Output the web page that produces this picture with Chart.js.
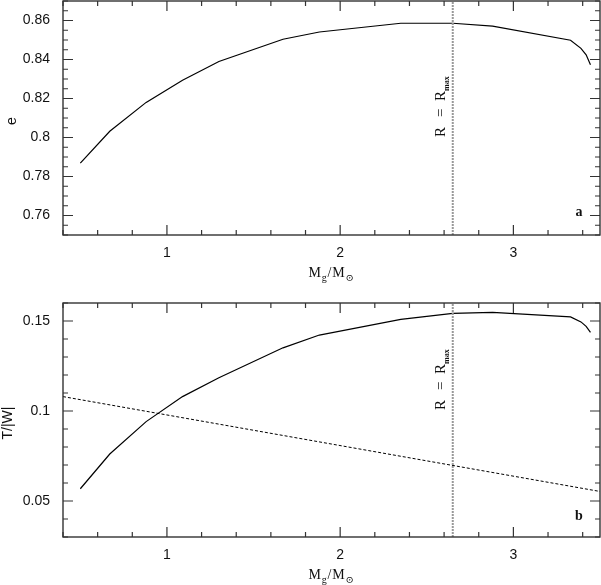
<!DOCTYPE html>
<html>
<head>
<meta charset="utf-8">
<script src="https://cdn.jsdelivr.net/npm/chart.js@4.4.1/dist/chart.umd.min.js"></script>
<style>
  html, body { margin: 0; padding: 0; background: #fff; }
  #wrap { position: relative; width: 601px; height: 585px; }
  .panel { position: absolute; left: 0; width: 601px; }
</style>
</head>
<body>
<div id="wrap">
  <div class="panel" style="top:0;height:290px"><canvas id="panelA" width="601" height="290"></canvas></div>
  <div class="panel" style="top:290px;height:295px"><canvas id="panelB" width="601" height="295"></canvas></div>
</div>
<script>
// valores
const massX  = [0.5, 0.67, 0.88, 1.09, 1.3, 1.67, 1.88, 2.35, 2.65, 2.88, 3.33, 3.39, 3.42, 3.445];
const eVals  = [0.7869, 0.8032, 0.818, 0.8294, 0.839, 0.8504, 0.8541, 0.8586, 0.8586, 0.8571, 0.8499, 0.8457, 0.8424, 0.8373];
const twVals = [0.0568, 0.0761, 0.0941, 0.108, 0.1185, 0.1351, 0.1422, 0.1509, 0.1542, 0.1548, 0.1523, 0.1495, 0.147, 0.1437];
const dashX  = [0.4, 3.5];
const dashTW = [0.108, 0.0553];
const rMaxX  = 2.65;

const xTicks  = [1, 2, 3];
const eTicks  = [0.76, 0.78, 0.8, 0.82, 0.84, 0.86];
const twTicks = [0.05, 0.1, 0.15];

const SANS  = '"Liberation Sans", Arial, sans-serif';
const SERIF = '"Liberation Serif", "DejaVu Serif", serif';

const toPts = (xs, ys) => xs.map((x, i) => ({ x: x, y: ys[i] }));

function stepsBetween(min, max, step) {
  const out = [];
  const n0 = Math.ceil(min / step - 1e-6), n1 = Math.floor(max / step + 1e-6);
  for (let n = n0; n <= n1; n++) out.push(+(n * step).toFixed(6));
  return out;
}

// marco, ticks hacia dentro y textos
const panelDeco = {
  id: 'panelDeco',
  afterDatasetsDraw(chart, args, o) {
    const { ctx, chartArea: a, scales: { x, y } } = chart;
    ctx.save();
    ctx.strokeStyle = '#333';
    ctx.lineWidth = 1.4;
    ctx.strokeRect(a.left, a.top, a.right - a.left, a.bottom - a.top);

    ctx.lineWidth = 1.2;
    ctx.beginPath();
    stepsBetween(x.min, x.max, o.xMinor).forEach(v => {
      const px = x.getPixelForValue(v);
      const len = Math.abs(v - Math.round(v / o.xMajor) * o.xMajor) < 1e-6 ? 10 : 5;
      ctx.moveTo(px, a.bottom); ctx.lineTo(px, a.bottom - len);
      ctx.moveTo(px, a.top); ctx.lineTo(px, a.top + len);
    });
    stepsBetween(y.min, y.max, o.yMinor).forEach(v => {
      const py = y.getPixelForValue(v);
      const len = Math.abs(v - Math.round(v / o.yMajor) * o.yMajor) < 1e-6 ? 10 : 5;
      ctx.moveTo(a.left, py); ctx.lineTo(a.left + len, py);
      ctx.moveTo(a.right, py); ctx.lineTo(a.right - len, py);
    });
    ctx.stroke();

    // etiquetas de los ejes
    ctx.fillStyle = '#111';
    ctx.font = '14px ' + SANS;
    ctx.textAlign = 'right';
    ctx.textBaseline = 'middle';
    o.yTicks.forEach(v => ctx.fillText(String(v), a.left - 13, y.getPixelForValue(v)));
    ctx.textAlign = 'center';
    xTicks.forEach(v => ctx.fillText(String(v), x.getPixelForValue(v), a.bottom + 18));

    // titulo eje y
    ctx.save();
    ctx.translate(o.yTitleX, (a.top + a.bottom) / 2 + 3);
    ctx.rotate(-Math.PI / 2);
    ctx.fillText(o.yTitle, 0, 0);
    ctx.restore();

    // titulo eje x: M_g / M_sol
    const cx = (a.left + a.right) / 2, by = a.bottom + 42;
    const parts = [['M', 14, 0], ['g', 10, 4], ['/', 14, 0], ['M', 14, 0], ['\u2299', 10, 4]];
    let w = 0;
    parts.forEach(p => { ctx.font = p[1] + 'px ' + SERIF; w += ctx.measureText(p[0]).width + 0.8; });
    let px = cx - w / 2;
    ctx.textAlign = 'left';
    ctx.textBaseline = 'alphabetic';
    parts.forEach(p => {
      ctx.font = p[1] + 'px ' + SERIF;
      ctx.fillText(p[0], px, by + p[2]);
      px += ctx.measureText(p[0]).width + 0.8;
    });

    // R = R_max vertical
    ctx.save();
    ctx.translate(445, o.rLabelY);
    ctx.rotate(-Math.PI / 2);
    ctx.font = '15px ' + SERIF;
    ctx.fillText('R', 0, 0);
    ctx.fillText('=', 20, 0);
    ctx.fillText('R', 36, 0);
    ctx.font = 'bold 8px ' + SERIF;
    ctx.fillText('max', 46, 4);
    ctx.restore();

    // letra del panel
    ctx.font = 'bold 14px ' + SERIF;
    ctx.textAlign = 'center';
    ctx.fillText(o.letter, 579, o.letterY);
    ctx.restore();
  }
};

function makePanel(id, yMin, yMax, datasets, deco, padTop, padBottom) {
  return new Chart(document.getElementById(id), {
    type: 'scatter',
    data: { datasets: datasets },
    options: {
      responsive: false,
      animation: false,
      layout: { padding: { left: 63, right: 1, top: padTop, bottom: padBottom } },
      scales: {
        x: { type: 'linear', min: 0.4, max: 3.5, display: false },
        y: { type: 'linear', min: yMin, max: yMax, display: false }
      },
      plugins: { legend: { display: false }, tooltip: { enabled: false }, panelDeco: deco }
    },
    plugins: [panelDeco]
  });
}

const lineStyle = { showLine: true, pointRadius: 0, borderColor: '#000', borderWidth: 1.2, fill: false };
const rMaxStyle = { showLine: true, pointRadius: 0, borderColor: '#999', borderWidth: 2, borderDash: [2, 1] };

makePanel('panelA', 0.75, 0.87, [
  Object.assign({ data: [{ x: rMaxX, y: 0.75 }, { x: rMaxX, y: 0.87 }] }, rMaxStyle),
  Object.assign({ data: toPts(massX, eVals) }, lineStyle)
], { xMinor: 0.2, xMajor: 1, yMinor: 0.005, yMajor: 0.02, yTicks: eTicks, yTitle: 'e', yTitleX: 12,
     rLabelY: 137, letter: 'a', letterY: 216 }, 1, 55);

makePanel('panelB', 0.03, 0.16, [
  Object.assign({ data: [{ x: rMaxX, y: 0.03 }, { x: rMaxX, y: 0.16 }] }, rMaxStyle),
  Object.assign({ data: toPts(massX, twVals) }, lineStyle),
  Object.assign({ data: toPts(dashX, dashTW) }, lineStyle, { borderWidth: 1, borderDash: [3, 2] })
], { xMinor: 0.2, xMajor: 1, yMinor: 0.01, yMajor: 0.05, yTicks: twTicks, yTitle: 'T/|W|', yTitleX: 8,
     rLabelY: 120, letter: 'b', letterY: 230 }, 13, 48);
</script>
</body>
</html>
